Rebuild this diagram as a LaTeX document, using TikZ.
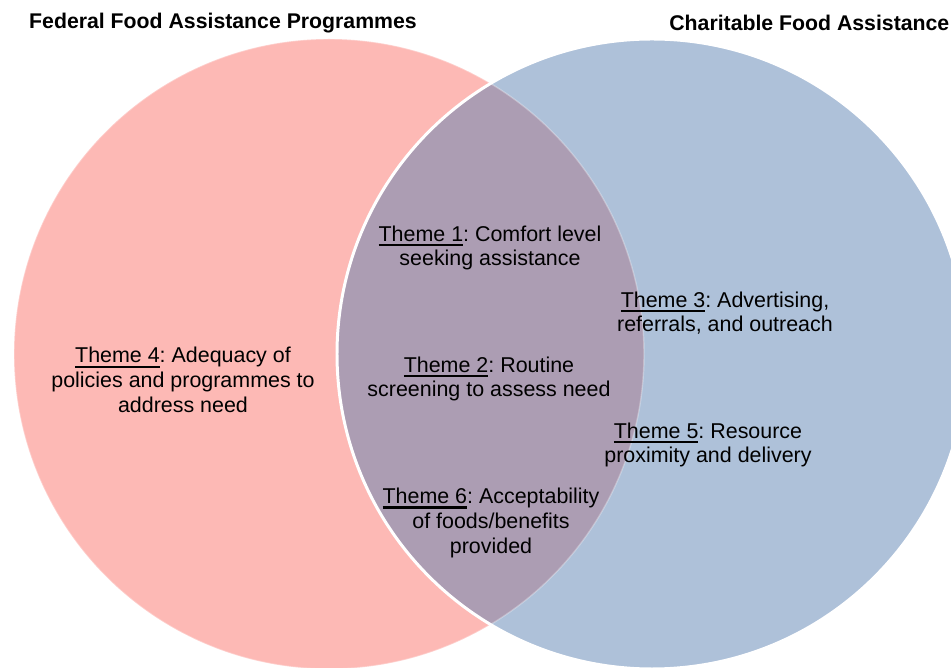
\documentclass[tikz,border=0pt]{standalone}
\usepackage{fontspec}
\setmainfont{Liberation Sans}
\definecolor{fedpink}{RGB}{253,185,181}
\definecolor{charblue}{RGB}{93,131,179}
% underlined theme label with a heavier rule
\newcommand{\thm}[1]{\setbox0\hbox{Theme #1}\rlap{\rule[-2.8pt]{\wd0}{1.3pt}}\box0}

\begin{document}
\begin{tikzpicture}[x=0.02cm,y=-0.02cm,
  head/.style={font=\fontsize{12.1}{14}\selectfont\bfseries,inner sep=0pt},
  theme/.style={font=\fontsize{12.2}{14.1}\selectfont\frenchspacing,align=center,inner sep=0pt}]
\useasboundingbox (0,0) rectangle (951,668);
% the two sets
\fill[fedpink] (329,354) circle (315);
\fill[charblue,opacity=0.5] (652,354) circle (315);
\draw[white,line width=1.7pt] (652,354) circle (315);
\draw[white,opacity=0.3,line width=0.8pt] (329,354) circle (315);
% headings
\node[head] (fedhead) at (223,23) {Federal Food Assistance Programmes};
\node[head,anchor=west] (charhead) at (669,23) {Charitable Food Assistance};
% themes
\node[theme] (t1) at (490,248) {\thm{1}: Comfort level\\seeking assistance};
\node[theme] (t2) at (489,379) {\thm{2}: Routine\\screening to assess need};
\node[theme] (t3) at (725,313) {\thm{3}: Advertising,\\referrals, and outreach};
\node[theme] (t4) at (183,380) {\thm{4}: Adequacy of\\policies and programmes to\\address need};
\node[theme] (t5) at (708,445) {\thm{5}: Resource\\proximity and delivery};
\node[theme] (t6) at (491,523) {\thm{6}: Acceptability\\of foods/benefits\\provided};
\end{tikzpicture}
\end{document}
